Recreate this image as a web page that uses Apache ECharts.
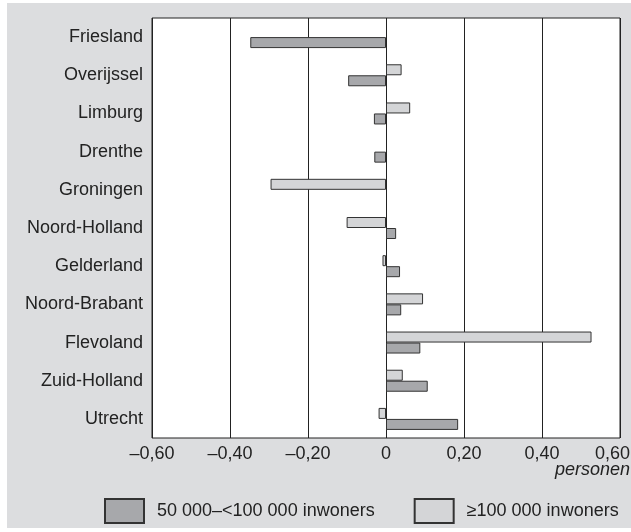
<!DOCTYPE html>
<html>
<head>
<meta charset="utf-8">
<script src="https://cdn.jsdelivr.net/npm/echarts@6/dist/echarts.min.js"></script>
<style>
html,body{margin:0;padding:0;background:#fff;}
#wrap{position:relative;width:631px;height:532px;}
#bg{position:absolute;left:7px;top:3px;width:624px;height:525px;background:#dcdddf;}
#chart{position:absolute;left:0;top:0;width:631px;height:532px;}
</style>
</head>
<body>
<div id="wrap"><div id="bg"></div><div id="chart"></div></div>
<script>
const categories = ['Friesland','Overijssel','Limburg','Drenthe','Groningen','Noord-Holland','Gelderland','Noord-Brabant','Flevoland','Zuid-Holland','Utrecht'];
const smallCities = [-0.348, -0.097, -0.031, -0.030, null, 0.026, 0.036, 0.039, 0.088, 0.107, 0.185];
const largeCities = [null, 0.040, 0.062, null, -0.296, -0.101, -0.009, 0.095, 0.527, 0.043, -0.019];
const seriesNames = ['50 000\u2013<100 000 inwoners', '\u2265100 000 inwoners'];
const xTicks = { min: -0.6, max: 0.6, interval: 0.2 };

const font = 'Liberation Sans, Arial, sans-serif';
const chart = echarts.init(document.getElementById('chart'), null, {renderer:'canvas'});
chart.setOption({
  backgroundColor: 'transparent',
  animation: false,
  grid: { left: 152, right: 11, top: 18, bottom: 94, containLabel: false, outerBoundsMode: 'none',
          show: true, backgroundColor: '#fff', borderColor: '#222', borderWidth: 1 },
  legend: {
    data: seriesNames,
    left: 104, top: 498, padding: 0,
    itemWidth: 39, itemHeight: 24, itemGap: 39,
    icon: 'rect',
    textStyle: { fontFamily: font, fontSize: 18, color: '#222', padding: [0,0,0,8] },
    selectedMode: false
  },
  xAxis: {
    type: 'value', min: xTicks.min, max: xTicks.max, interval: xTicks.interval,
    name: 'personen', nameLocation: 'end', nameMoveOverlap: false,
    nameTextStyle: { fontFamily: font, fontSize: 18, fontStyle: 'italic', color: '#222', align: 'right', verticalAlign: 'top', padding: [23, 0, 0, 0] },
    nameGap: 10,
    axisLine: { show: false }, axisTick: { show: false },
    splitLine: { show: true, lineStyle: { color: '#222', width: 1 } },
    axisLabel: {
      fontFamily: font, fontSize: 18, color: '#222', margin: 7, hideOverlap: false,
      rich: { m: { fontFamily: font, fontSize: 18, color: '#222', padding: [0, 15, 0, 0] } },
      formatter: v => {
        if (Math.abs(v) < 1e-9) return '0';
        const s = Math.abs(v).toFixed(2).replace('.', ',');
        if (Math.abs(v - xTicks.max) < 1e-9) return '{m|' + s + '}';
        return (v < 0 ? '\u2013' : '') + s;
      }
    }
  },
  yAxis: {
    type: 'category', data: categories, inverse: true,
    axisLine: { show: false }, axisTick: { show: false }, splitLine: { show: false },
    axisLabel: { fontFamily: font, fontSize: 18, color: '#222', margin: 9 }
  },
  series: [
    { name: seriesNames[1], type: 'bar', data: largeCities, barWidth: 11, barGap: '0%',
      itemStyle: { color: '#d4d5d7', borderColor: '#333', borderWidth: 1 } },
    { name: seriesNames[0], type: 'bar', data: smallCities, barWidth: 11, barGap: '0%',
      itemStyle: { color: '#a7a8ab', borderColor: '#333', borderWidth: 1 } }
  ]
});
</script>
</body>
</html>
